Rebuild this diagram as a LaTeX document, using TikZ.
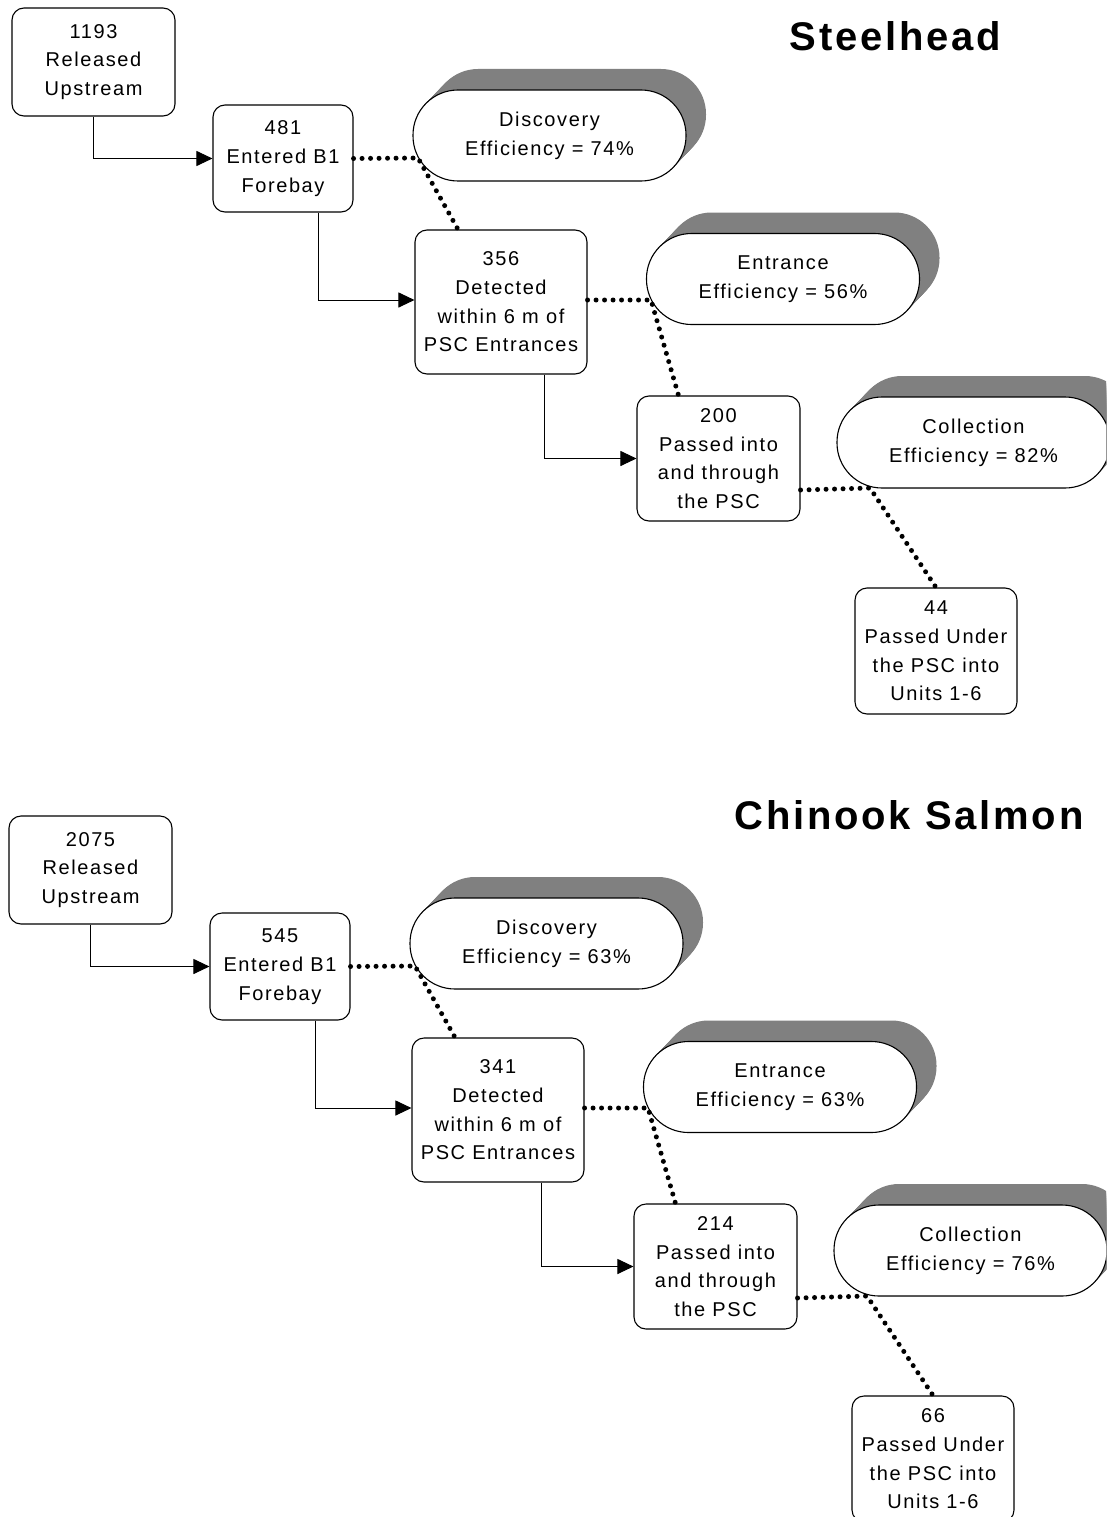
\documentclass[tikz,border=0pt]{standalone}
\usepackage{fontspec}
\setmainfont{Liberation Sans}[LetterSpace=8]
\newfontfamily\titlefont{Liberation Sans}[LetterSpace=7]
\usetikzlibrary{arrows.meta,calc}
\definecolor{extr}{RGB}{128,128,128}
\definecolor{extrl}{RGB}{150,150,150}
\newcommand\bodyfont{\fontsize{20}{28.7}\selectfont}
\tikzset{
  box/.style={draw, line width=1.1pt, rounded corners=12pt, align=center, inner sep=0pt, font=\bodyfont},
  pill/.style={draw, fill=white, line width=1.1pt, rounded corners=45pt, minimum width=273pt, minimum height=91pt, align=center, inner sep=0pt, font=\bodyfont},
  pillback/.style={fill=extr, rounded corners=45pt, minimum width=273pt, minimum height=91pt, inner sep=0pt},
  pillbackl/.style={fill=extrl, rounded corners=45pt, minimum width=273pt, minimum height=91pt, inner sep=0pt},
  flow/.style={line width=1pt, -{Triangle[length=16pt,width=15pt]}},
  dots/.style={line width=5pt, line cap=round, dash pattern=on 0pt off 8.5pt},
  ttl/.style={font=\titlefont\fontsize{40}{40}\selectfont\bfseries, anchor=base, inner sep=0pt}
}
\newcommand\mypill[4]{%
  \foreach \k in {0,...,20} {\node[pillback] at ({#2+\k},{#3-\k*1.05}) {};}
  \node[pill] (#1) at (#2,#3) {#4};
}
\newcommand\flowset[1]{%
  \node[box, minimum width=163pt, minimum height=108pt] (#1A) at (93.5,62) {\csname n#1A\endcsname};
  \node[box, minimum width=140pt, minimum height=107pt] (#1B) at (283,158.5) {\csname n#1B\endcsname};
  \node[box, minimum width=172pt, minimum height=144pt] (#1C) at (501,302) {\csname n#1C\endcsname};
  \node[box, minimum width=163pt, minimum height=125pt] (#1D) at (718.5,458.5) {\csname n#1D\endcsname};
  \node[box, minimum width=162pt, minimum height=126pt] (#1E) at (936,651) {\csname n#1E\endcsname};
  \mypill{#1P}{549.5}{135.5}{\csname n#1P\endcsname}
  \mypill{#1Q}{783}{279}{\csname n#1Q\endcsname}
  \mypill{#1R}{973.5}{442.5}{\csname n#1R\endcsname}
  \coordinate (#1j1) at (418,158);
  \coordinate (#1j2) at (651,300);
  \coordinate (#1j3) at (870,488);
  \draw[flow] (#1A.south) |- (#1B.west);
  \draw[flow] ([xshift=35pt]#1B.south) |- ([yshift=2pt]#1C.west);
  \draw[flow] ([xshift=43pt]#1C.south) |- (#1D.west);
  \draw[dots] (#1B.east) -- (#1j1) -- ([xshift=-43pt]#1C.north);
  \draw[dots] ([yshift=2pt]#1C.east) -- (#1j2) -- ([xshift=-40pt]#1D.north);
  \draw[dots] ([yshift=-31.5pt]#1D.east) -- (#1j3) -- (#1E.north);
}
\begin{document}
\begin{tikzpicture}[x=1pt,y=-1pt]
\useasboundingbox (0,0) rectangle (1106,1517);
\fill[white] (0,0) rectangle (1106,1517);
\clip (0,0) rectangle (1106,1517);
% Steelhead
\def\nsA{1193\\Released\\Upstream}
\def\nsB{481\\Entered B1\\Forebay}
\def\nsC{356\\Detected\\within 6 m of\\PSC Entrances}
\def\nsD{200\\Passed into\\and through\\the PSC}
\def\nsE{44\\Passed Under\\the PSC into\\Units 1-6}
\def\nsP{Discovery\\Efficiency = 74\%}
\def\nsQ{Entrance\\Efficiency = 56\%}
\def\nsR{Collection\\Efficiency = 82\%}
\flowset{s}
\node[ttl] (t1) at (895.5,51) {Steelhead};
% Chinook
\def\ncA{2075\\Released\\Upstream}
\def\ncB{545\\Entered B1\\Forebay}
\def\ncC{341\\Detected\\within 6 m of\\PSC Entrances}
\def\ncD{214\\Passed into\\and through\\the PSC}
\def\ncE{66\\Passed Under\\the PSC into\\Units 1-6}
\def\ncP{Discovery\\Efficiency = 63\%}
\def\ncQ{Entrance\\Efficiency = 63\%}
\def\ncR{Collection\\Efficiency = 76\%}
\begin{scope}[shift={(-3,808)}]
\flowset{c}
\end{scope}
\node[ttl] (t2) at (909,829) {Chinook Salmon};
\end{tikzpicture}
\end{document}
